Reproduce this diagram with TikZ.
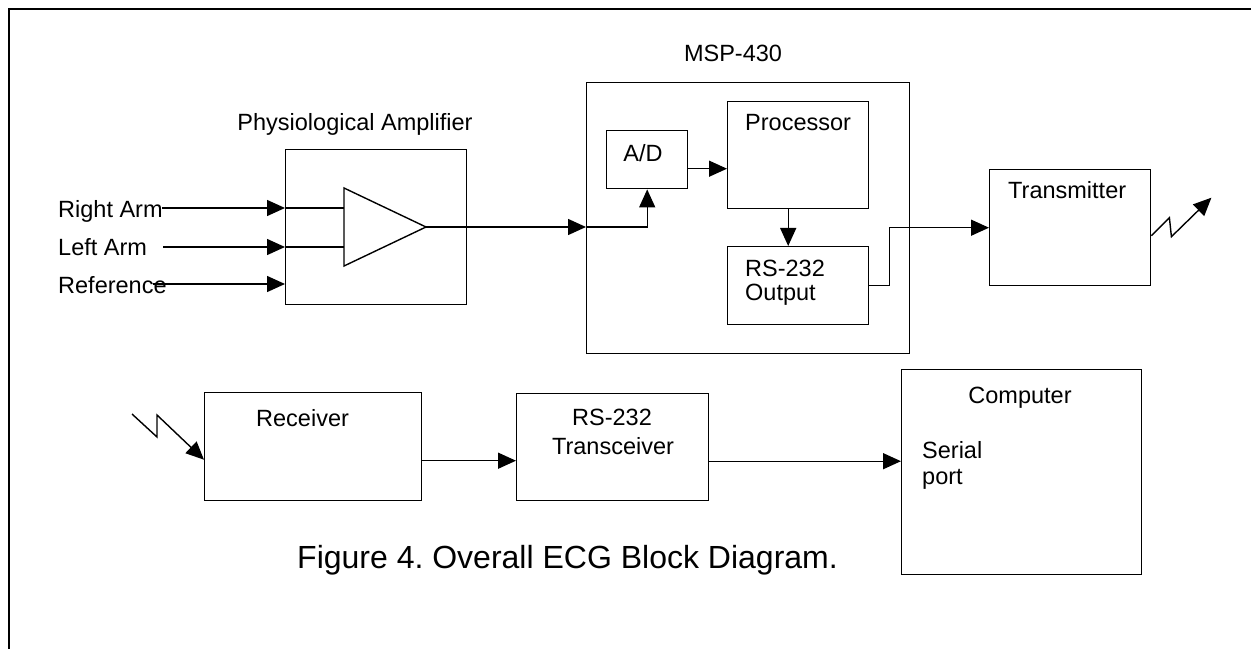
\documentclass[tikz,border=0pt]{standalone}
\usepackage{fontspec}
\setmainfont{Liberation Sans}
\usetikzlibrary{arrows.meta}
\frenchspacing
\tikzset{
  box/.style={draw, line width=1.4bp, rectangle, inner sep=0pt, anchor=north west},
  lbl/.style={inner sep=0pt, font=\fontsize{23.5bp}{27bp}\selectfont},
  captionstyle/.style={inner sep=0pt, font=\fontsize{32bp}{38bp}\selectfont},
  wire/.style={line width=1.4bp},
  arr/.style={line width=1.4bp, -{Triangle[length=18bp,width=16bp]}},
}
\begin{document}
\begin{tikzpicture}[x=1bp,y=-1bp]
\useasboundingbox (0,0) rectangle (1251,649);
\fill[white] (0,0) rectangle (1251,649);
% frame
\draw[line width=2bp] (9,649) -- (9,9) -- (1251,9);

% boxes
\node[box, minimum width=181bp, minimum height=155bp] (amp) at (285,149) {};
\node[box, minimum width=323bp, minimum height=271bp] (msp) at (586,82) {};
\node[box, minimum width=81bp, minimum height=58bp] (ad) at (606,130) {};
\node[box, minimum width=141bp, minimum height=107bp] (proc) at (727,101) {};
\node[box, minimum width=141bp, minimum height=78bp] (rsout) at (727,246) {};
\node[box, minimum width=161bp, minimum height=116bp] (tx) at (989,169) {};
\node[box, minimum width=217bp, minimum height=108bp] (rx) at (204,392) {};
\node[box, minimum width=192bp, minimum height=107bp] (trx) at (516,393) {};
\node[box, minimum width=240bp, minimum height=205bp] (comp) at (901,369) {};

% amplifier triangle
\coordinate (triA) at (344,188);
\coordinate (triB) at (344,266);
\coordinate (tri) at (426,227);
\draw[wire] (triA) -- (tri) -- (triB) -- cycle;
\coordinate (inRA) at (344,208);
\coordinate (inLA) at (344,247);

% labels
\node[lbl, anchor=base] (ampl) at (355,131) {Physiological Amplifier};
\node[lbl, anchor=base] (mspl) at (733,62) {MSP-430};
\node[lbl, anchor=base] (adl) at (643,162) {A/D};
\node[lbl, anchor=base west] (procl) at (745,131) {Processor};
\node[lbl, anchor=base west] (rsoutA) at (745,276) {RS-232};
\node[lbl, anchor=base west] (rsoutB) at (745,300) {Output};
\node[lbl, anchor=base west] (txl) at (1008,199) {Transmitter};
\node[lbl, anchor=base west] (rxl) at (256,426) {Receiver};
\node[lbl, anchor=base] (trxA) at (612,425) {RS-232};
\node[lbl, anchor=base] (trxB) at (613,454) {Transceiver};
\node[lbl, anchor=base] (compl) at (1020,403) {Computer};
\node[lbl, anchor=base west] (serA) at (922,458) {Serial};
\node[lbl, anchor=base west] (serB) at (922,484) {port};
\node[lbl, anchor=base west] (ra) at (58,218) {Right Arm};
\node[lbl, anchor=base west] (la) at (58,255) {Left Arm};
\node[lbl, anchor=base west] (ref) at (58,293) {Reference};
\node[captionstyle, anchor=base west] (caption) at (297,568) {Figure 4. Overall ECG Block Diagram.};

% inputs
\coordinate (raS) at (162,208);
\coordinate (laS) at (163,247);
\coordinate (refS) at (153,284);
\draw[arr] (raS) -- (amp.west |- raS);
\draw[wire] (amp.west |- raS) -- (inRA);
\draw[arr] (laS) -- (amp.west |- laS);
\draw[wire] (amp.west |- laS) -- (inLA);
\draw[arr] (refS) -- (amp.west |- refS);

% amp -> MSP -> A/D
\draw[arr] (tri) -- (msp.west |- tri);
\draw[arr] (msp.west |- tri) -| (ad.south);
% A/D -> processor
\coordinate (adout) at ([yshift=-9bp]ad.east);
\draw[arr] (adout) -- (proc.west |- adout);
% processor -> RS-232 output
\coordinate (procout) at ([xshift=-10bp]proc.south);
\draw[arr] (procout) -- (rsout.north -| procout);
% RS-232 output -> transmitter
\draw[arr] (rsout.east) -- ++(20,0) |- (tx.west);
% transmitter antenna
\coordinate (txant) at ([yshift=-8bp]tx.east);
\draw[arr] (txant) -- ++(18,-18) -- ++(2,19) -- ++(40,-39);

% receiver antenna
\coordinate (rxant) at (132,414);
\coordinate (rxin) at ([yshift=-13bp]rx.west);
\draw[arr] (rxant) -- (157,437) -- (157,415) -- (rxin);
% receiver -> transceiver -> computer
\coordinate (rxout) at ([yshift=-14bp]rx.east);
\draw[arr] (rxout) -- (trx.west |- rxout);
\coordinate (trxout) at ([yshift=-14bp]trx.east);
\draw[arr] (trxout) -- (comp.west |- trxout);
\end{tikzpicture}
\end{document}
